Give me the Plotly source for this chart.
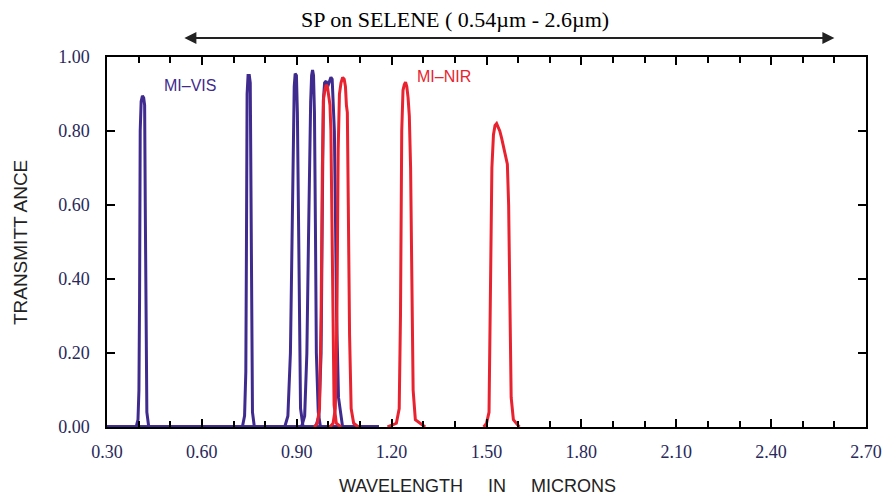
import plotly.graph_objects as go

# ---- data (wavelength in microns, transmittance) ----
vis1_x = [0.30, 0.392, 0.398, 0.401, 0.403, 0.405, 0.408, 0.412, 0.416, 0.419, 0.421, 0.423, 0.426, 0.432, 1.16]
vis1_y = [0, 0, 0.02, 0.10, 0.35, 0.80, 0.88, 0.895, 0.89, 0.87, 0.60, 0.20, 0.04, 0, 0]

vis2_x = [0.30, 0.728, 0.735, 0.739, 0.741, 0.743, 0.746, 0.750, 0.753, 0.755, 0.757, 0.760, 0.766, 1.16]
vis2_y = [0, 0, 0.03, 0.15, 0.5, 0.9, 0.95, 0.95, 0.93, 0.6, 0.2, 0.04, 0, 0]

vis3_x = [0.30, 0.862, 0.872, 0.880, 0.885, 0.889, 0.892, 0.895, 0.899, 0.902, 0.905, 0.908, 0.912, 0.920, 1.16]
vis3_y = [0, 0, 0.03, 0.2, 0.5, 0.8, 0.92, 0.955, 0.95, 0.85, 0.6, 0.25, 0.05, 0, 0]

vis4_x = [0.30, 0.915, 0.925, 0.932, 0.937, 0.941, 0.944, 0.947, 0.950, 0.953, 0.956, 0.959, 0.962, 0.968, 0.975, 1.16]
vis4_y = [0, 0, 0.03, 0.2, 0.5, 0.78, 0.88, 0.95, 0.965, 0.95, 0.85, 0.55, 0.2, 0.04, 0, 0]

vis5_x = [0.30, 0.960, 0.970, 0.977, 0.981, 0.984, 0.988, 0.993, 0.998, 1.003, 1.008, 1.012, 1.016, 1.019, 1.022, 1.026, 1.032, 1.045, 1.16]
vis5_y = [0, 0, 0.03, 0.2, 0.6, 0.88, 0.93, 0.935, 0.92, 0.93, 0.945, 0.94, 0.85, 0.8, 0.6, 0.3, 0.08, 0, 0]

nir1_x = [0.955, 0.965, 0.972, 0.977, 0.981, 0.985, 0.989, 0.993, 0.997, 1.001, 1.005, 1.008, 1.011, 1.014, 1.018, 1.025, 1.040]
nir1_y = [0, 0.01, 0.05, 0.3, 0.7, 0.89, 0.91, 0.925, 0.92, 0.90, 0.87, 0.80, 0.55, 0.25, 0.06, 0.01, 0]

nir2_x = [1.005, 1.015, 1.022, 1.027, 1.031, 1.035, 1.040, 1.045, 1.050, 1.054, 1.057, 1.060, 1.063, 1.067, 1.072, 1.080, 1.095]
nir2_y = [0, 0.01, 0.05, 0.3, 0.75, 0.90, 0.93, 0.945, 0.94, 0.92, 0.87, 0.85, 0.6, 0.25, 0.05, 0.01, 0]

nir3_x = [1.187, 1.200, 1.215, 1.224, 1.228, 1.232, 1.236, 1.240, 1.244, 1.248, 1.252, 1.256, 1.260, 1.264, 1.268, 1.275, 1.290, 1.306]
nir3_y = [0, 0.005, 0.01, 0.05, 0.3, 0.8, 0.91, 0.925, 0.932, 0.92, 0.89, 0.84, 0.7, 0.4, 0.1, 0.02, 0.01, 0]

nir4_x = [1.491, 1.500, 1.508, 1.512, 1.517, 1.522, 1.527, 1.532, 1.537, 1.542, 1.548, 1.553, 1.558, 1.562, 1.566, 1.570, 1.574, 1.578, 1.585, 1.595, 1.604]
nir4_y = [0, 0.01, 0.04, 0.3, 0.7, 0.79, 0.815, 0.82, 0.81, 0.80, 0.78, 0.76, 0.74, 0.72, 0.71, 0.6, 0.3, 0.08, 0.02, 0.01, 0]

x_ticks = [0.30, 0.60, 0.90, 1.20, 1.50, 1.80, 2.10, 2.40, 2.70]
y_ticks = [0.00, 0.20, 0.40, 0.60, 0.80, 1.00]
sp_range = [0.54, 2.6]

BLUE = "#3f2b8e"
RED = "#e8232f"
TICKC = "#28285a"

fig = go.Figure()
for xs, ys in [(vis1_x, vis1_y), (vis2_x, vis2_y), (vis3_x, vis3_y), (vis4_x, vis4_y), (vis5_x, vis5_y)]:
    fig.add_trace(go.Scatter(x=xs, y=ys, mode="lines", line=dict(color=BLUE, width=3), showlegend=False))
for xs, ys in [(nir1_x, nir1_y), (nir2_x, nir2_y), (nir3_x, nir3_y), (nir4_x, nir4_y)]:
    fig.add_trace(go.Scatter(x=xs, y=ys, mode="lines", line=dict(color=RED, width=3), showlegend=False))

axis_common = dict(showline=True, linecolor="black", linewidth=1.5, mirror="ticks",
                   ticks="inside", tickcolor="black", showgrid=False, zeroline=False,
                   tickfont=dict(family="Liberation Serif", size=18, color=TICKC))

fig.update_xaxes(range=[0.30, 2.70], tickvals=x_ticks, ticktext=[f"{v:.2f}" for v in x_ticks],
                 ticklen=8, tickwidth=1.5, ticklabelstandoff=8,
                 minor=dict(dtick=0.1, tick0=0.3, ticks="inside", ticklen=6, tickcolor="black", tickwidth=1.5),
                 **axis_common)
fig.update_yaxes(range=[0, 1.0], tickvals=y_ticks, ticktext=[f"{v:.2f}" for v in y_ticks],
                 ticklen=8, tickwidth=1.5, ticklabelstandoff=12, **axis_common)

annotations = [
    dict(text="SP on SELENE ( 0.54µm - 2.6µm)", xref="paper", yref="paper", x=0.458, y=1.0,
         yshift=38, yanchor="middle", showarrow=False,
         font=dict(family="Liberation Serif", size=22, color="black")),
    dict(x=sp_range[1], y=1.0, xref="x", yref="paper", yshift=19, ax=sp_range[0], ay=0,
         axref="x", ayref="pixel", showarrow=True, arrowhead=2, arrowside="end+start",
         arrowsize=1.2, arrowwidth=2, arrowcolor="#222222", text=""),
    dict(text="MI–VIS", x=0.563, y=0.924, xref="x", yref="y", yanchor="middle", showarrow=False,
         font=dict(family="Liberation Sans", size=16, color=BLUE)),
    dict(text="MI–NIR", x=1.366, y=0.946, xref="x", yref="y", yanchor="middle", showarrow=False,
         font=dict(family="Liberation Sans", size=16, color=RED)),
    dict(text="TRANSMITT ANCE", xref="paper", yref="paper", x=0, y=0.497, xshift=-87,
         xanchor="center", yanchor="middle",
         textangle=-90, showarrow=False, font=dict(family="Liberation Sans", size=19, color="#222222")),
    dict(text="WAVELENGTH     IN     MICRONS", xref="paper", yref="paper", x=0.488, y=0, yshift=-59,
         xanchor="center", yanchor="middle",
         showarrow=False, font=dict(family="Liberation Sans", size=18, color="#222222")),
]

fig.update_layout(width=886, height=489, margin=dict(l=99, r=21, t=49, b=70),
                  plot_bgcolor="white", paper_bgcolor="white", annotations=annotations)

fig.write_html("out.html")
